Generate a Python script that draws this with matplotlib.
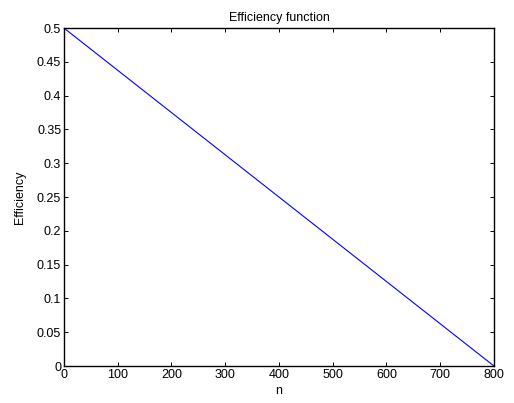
import numpy as np
import matplotlib
matplotlib.use("Agg")
import matplotlib.pyplot as plt

plt.rcParams['font.family'] = ['Liberation Sans', 'DejaVu Sans']

# Efficiency falls linearly from 0.5 at n=0 to 0 at n=800
n_values = [0, 800]
efficiency_values = [0.5, 0.0]
x_ticks = [0, 100, 200, 300, 400, 500, 600, 700, 800]
y_ticks = [0, 0.05, 0.1, 0.15, 0.2, 0.25, 0.3, 0.35, 0.4, 0.45, 0.5]
y_tick_labels = ['0', '0.05', '0.1', '0.15', '0.2', '0.25', '0.3', '0.35', '0.4', '0.45', '0.5']

fig = plt.figure(figsize=(5.14, 4.03), dpi=100)
ax = fig.add_axes([0.1245, 0.0918, 0.8365, 0.8385])
ax.plot(n_values, efficiency_values, color='#0000ff', linewidth=0.8)

ax.set_xlim(0, 800)
ax.set_ylim(0, 0.5)
ax.set_xticks(x_ticks)
ax.set_xticklabels([str(t) for t in x_ticks])
ax.set_yticks(y_ticks)
ax.set_yticklabels(y_tick_labels)
ax.tick_params(direction='in', top=True, right=True, length=3, width=0.7,
               labelsize=9, pad=2)
for s in ax.spines.values():
    s.set_linewidth(1.0)

ax.set_title('Efficiency function', fontsize=9, pad=5)
ax.set_xlabel('n', fontsize=9, labelpad=3)
ax.set_ylabel('Efficiency', fontsize=9, labelpad=8)

fig.savefig('out.png', dpi=100)
